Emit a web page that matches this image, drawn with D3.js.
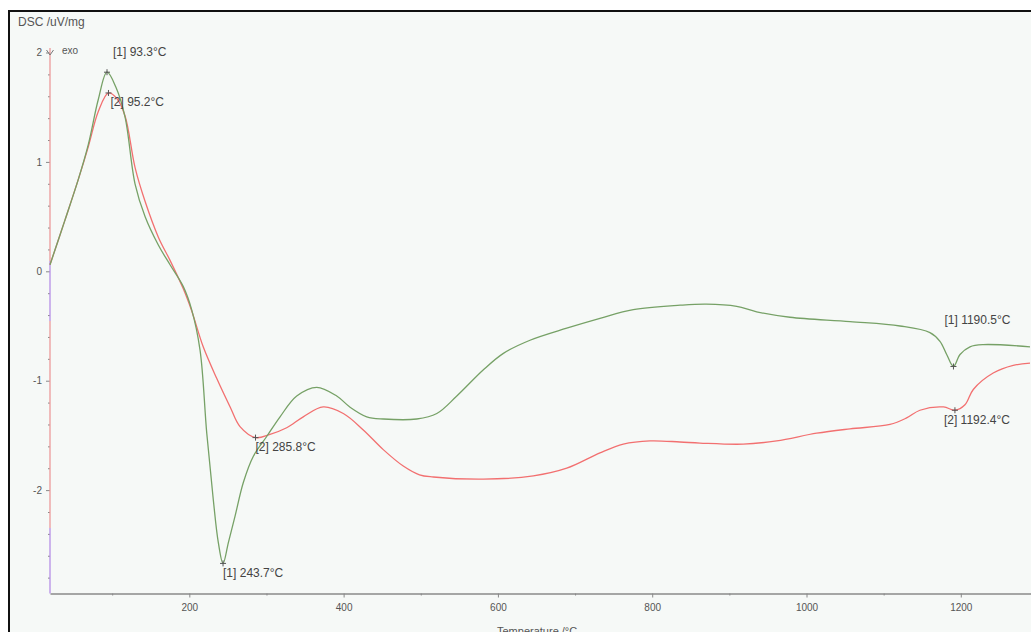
<!DOCTYPE html>
<html>
<head>
<meta charset="utf-8">
<script src="https://cdn.jsdelivr.net/npm/d3@7"></script>
<style>
  html, body { margin: 0; padding: 0; background: #fff; }
  svg { display: block; font-family: "Liberation Sans", Arial, sans-serif; }
  .tick text { fill: #555; font-size: 10px; }
</style>
</head>
<body>
<svg id="chart" width="1031" height="632"></svg>
<script>
// Temperature (°C) and DSC signal (uV/mg).
const greenTemp = [19.4, 38.9, 56.1, 69.1, 82.0, 93.3, 105, 116.7, 129.6, 142.6, 159.8, 175, 192.2, 203, 213.9,
  222.6, 231.1, 237.6, 243.7, 250.6, 259.2, 270, 283, 300.3, 317.6, 339.2, 365.2, 391.1, 408, 430, 451.5,
  494.8, 520.8, 546.7, 581.2, 607.1, 641.6, 689.2, 732.3, 775.5, 836.2, 870, 909.5, 935.4, 978.6, 1056.4,
  1121.2, 1160, 1173, 1181.7, 1190.5, 1199, 1211.9, 1229.2, 1289.7];
const greenDsc = [0.06, 0.47, 0.84, 1.16, 1.57, 1.82, 1.68, 1.41, 0.80, 0.50, 0.24, 0.06, -0.14, -0.35, -0.72,
  -1.48, -2.09, -2.48, -2.67, -2.48, -2.24, -1.93, -1.69, -1.51, -1.33, -1.14, -1.06, -1.14, -1.24, -1.33, -1.35,
  -1.35, -1.30, -1.14, -0.90, -0.75, -0.63, -0.52, -0.43, -0.35, -0.31, -0.30, -0.32, -0.37, -0.42, -0.46,
  -0.50, -0.56, -0.64, -0.76, -0.87, -0.76, -0.69, -0.67, -0.69];

const redTemp = [19.4, 38.9, 56.1, 69.1, 82.0, 95.2, 106, 116.7, 129.6, 142.6, 160, 175, 192.2, 203, 218,
  235.6, 252.9, 265.7, 285.8, 304.6, 326.2, 347.7, 373.6, 399.6, 425.5, 451.4, 477.3, 498.3, 516.3, 581.2,
  646, 689.2, 732.3, 762.5, 797.1, 836, 861.9, 918, 961.3, 1013.2, 1056.4, 1108.2, 1129.8, 1147, 1177.6,
  1192.4, 1205.4, 1216.2, 1242, 1268, 1289.7];
const redDsc = [0.06, 0.47, 0.84, 1.14, 1.46, 1.63, 1.58, 1.42, 0.95, 0.64, 0.31, 0.10, -0.16, -0.36, -0.69,
  -0.98, -1.24, -1.42, -1.52, -1.49, -1.43, -1.33, -1.24, -1.30, -1.45, -1.63, -1.78, -1.86, -1.88, -1.90,
  -1.87, -1.80, -1.66, -1.58, -1.55, -1.56, -1.57, -1.58, -1.55, -1.48, -1.44, -1.40, -1.34, -1.27, -1.24,
  -1.27, -1.22, -1.08, -0.93, -0.86, -0.84];

// Peak annotations
const annTemp = [93.3, 95.2, 243.7, 285.8, 1190.5, 1192.4];
const annDsc = [1.82, 1.63, -2.67, -1.52, -0.87, -1.27];
const annText = ['[1] 93.3°C', '[2] 95.2°C', '[1] 243.7°C', '[2] 285.8°C', '[1] 1190.5°C', '[2] 1192.4°C'];
const annOffset = [[6, -16], [2, 13], [0, 14], [0, 13], [-9, -42], [-11, 14]];

const xMajor = [200, 400, 600, 800, 1000, 1200];
const xMinor = [100, 300, 500, 700, 900, 1100];
const yMajor = [-2, -1, 0, 1, 2];

const svg = d3.select('#chart');

// frame
svg.append('rect')
    .attr('x', 9).attr('y', 11)
    .attr('width', 1030).attr('height', 640)
    .attr('fill', '#f6f9f7')
    .attr('stroke', '#111')
    .attr('stroke-width', 2);

let x = d3.scaleLinear().domain([19.4, 1291]).range([50, 1031]);
let y = d3.scaleLinear().domain([-2.945, 2]).range([593.5, 52.5]);

const plain = (d) => String(d);

// x-axis
svg.append('g')
    .attr('transform', 'translate(0,593.5)')
    .call(d3.axisBottom(x).tickValues(xMinor).tickSize(2).tickFormat(''))
    .call(g => g.select('.domain').remove())
    .call(g => g.selectAll('line').attr('stroke', '#888'));

svg.append('g')
    .attr('transform', 'translate(0,593.5)')
    .call(d3.axisBottom(x).tickValues(xMajor).tickSize(4).tickSizeOuter(0).tickPadding(6).tickFormat(plain))
    .call(g => g.select('.domain').attr('stroke', '#8a8a8a').attr('stroke-width', 1.3))
    .call(g => g.selectAll('line').attr('stroke', '#888'))
    .call(g => g.selectAll('text').attr('font-family', '"Liberation Sans", Arial, sans-serif'));

svg.append('text')
    .attr('x', 497).attr('y', 635)
    .attr('fill', '#555').attr('font-size', 11)
    .text('Temperature /°C');

// y-axis
let yMinor = d3.range(-2.8, 2.0, 0.2).filter(v => Math.abs(v - Math.round(v)) > 0.05);

svg.append('g')
    .attr('transform', 'translate(50,0)')
    .call(d3.axisLeft(y).tickValues(yMinor).tickSize(2).tickFormat(''))
    .call(g => g.select('.domain').remove())
    .call(g => g.selectAll('line').attr('stroke', '#888'));

svg.append('g')
    .attr('transform', 'translate(50,0)')
    .call(d3.axisLeft(y).tickValues(yMajor).tickSize(4).tickSizeOuter(0).tickPadding(4).tickFormat(plain))
    .call(g => g.select('.domain').remove())
    .call(g => g.selectAll('line').attr('stroke', '#888'))
    .call(g => g.selectAll('text').attr('font-family', '"Liberation Sans", Arial, sans-serif'));

// coloured y-axis line
let grad = svg.append('defs').append('linearGradient')
    .attr('id', 'yaxis').attr('gradientUnits', 'userSpaceOnUse')
    .attr('x1', 0).attr('y1', 48).attr('x2', 0).attr('y2', 593.5);
[[0, '#ec9a9a'], [0.39, '#ec9a9a'], [0.39, '#b58ee6'], [0.5, '#b58ee6'], [0.5, '#ec9a9a'],
 [0.88, '#ec9a9a'], [0.88, '#b58ee6'], [1, '#b58ee6']].forEach(s => {
  grad.append('stop').attr('offset', s[0]).attr('stop-color', s[1]);
});
svg.append('line')
    .attr('x1', 50).attr('x2', 50)
    .attr('y1', 48).attr('y2', 593.5)
    .attr('stroke', 'url(#yaxis)').attr('stroke-width', 1.3);

// exo arrow
svg.append('path')
    .attr('d', 'M46.5,50 L50,55 L53.5,50')
    .attr('fill', 'none').attr('stroke', '#777').attr('stroke-width', 1);
svg.append('text')
    .attr('x', 62).attr('y', 54)
    .attr('fill', '#555').attr('font-size', 10)
    .text('exo');

svg.append('text')
    .attr('x', 18).attr('y', 26)
    .attr('fill', '#555').attr('font-size', 12)
    .text('DSC /uV/mg');

// curves
const line = d3.line()
    .x(d => x(d[0]))
    .y(d => y(d[1]))
    .curve(d3.curveCatmullRom.alpha(0.5));

svg.append('path')
    .datum(redTemp.map((t, i) => [t, redDsc[i]]))
    .attr('d', line)
    .attr('fill', 'none')
    .attr('stroke', '#f27070')
    .attr('stroke-width', 1.3);

svg.append('path')
    .datum(greenTemp.map((t, i) => [t, greenDsc[i]]))
    .attr('d', line)
    .attr('fill', 'none')
    .attr('stroke', '#76a166')
    .attr('stroke-width', 1.3);

// peak markers and labels
annTemp.forEach((t, i) => {
  let px = x(t), py = y(annDsc[i]);
  svg.append('path')
      .attr('d', `M${px - 3},${py} L${px + 3},${py} M${px},${py - 3} L${px},${py + 3}`)
      .attr('stroke', '#555').attr('stroke-width', 1);
  svg.append('text')
      .attr('x', px + annOffset[i][0])
      .attr('y', py + annOffset[i][1])
      .attr('fill', '#444').attr('font-size', 12)
      .text(annText[i]);
});
</script>
</body>
</html>
